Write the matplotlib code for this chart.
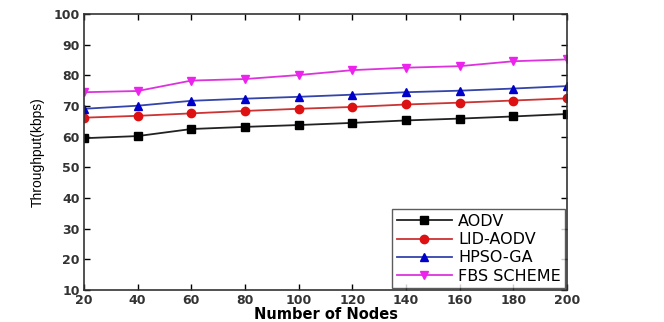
import matplotlib
matplotlib.use("Agg")
import matplotlib.pyplot as plt

nodes = [20, 40, 60, 80, 100, 120, 140, 160, 180, 200]
aodv = [59.5, 60.2, 62.5, 63.2, 63.8, 64.5, 65.3, 65.9, 66.6, 67.4]
lid_aodv = [66.2, 66.8, 67.6, 68.4, 69.1, 69.7, 70.5, 71.1, 71.8, 72.5]
hpso_ga = [69.1, 70.1, 71.7, 72.4, 73.0, 73.7, 74.5, 75.0, 75.7, 76.5]
fbs = [74.5, 74.9, 78.3, 78.8, 80.1, 81.7, 82.5, 83.0, 84.6, 85.2]
labels = ["AODV", "LID-AODV", "HPSO-GA", "FBS SCHEME"]
yticks = [10, 20, 30, 40, 50, 60, 70, 80, 90, 100]

plt.rcParams['font.family'] = ['DejaVu Sans']

fig = plt.figure(figsize=(6.64, 3.22), dpi=100)
ax = fig.add_axes([0.1265, 0.0994, 0.7275, 0.857])

styles = [
    dict(color='#222222', marker='s', mfc='black', mec='black'),
    dict(color='#cc3333', marker='o', mfc='#dd1111', mec='#dd1111'),
    dict(color='#3344aa', marker='^', mfc='#0000cc', mec='#0000cc'),
    dict(color='#dd33dd', marker='v', mfc='#ee22ee', mec='#ee22ee'),
]
for ys, lab, st in zip([aodv, lid_aodv, hpso_ga, fbs], labels, styles):
    ax.plot(nodes, ys, lw=1.3, ms=6, label=lab, **st)

ax.set_xlim(20, 200)
ax.set_ylim(10, 100)
ax.set_xticks(nodes)
ax.set_yticks(yticks)
ax.tick_params(direction='in', top=True, right=True, length=4, width=1,
               labelsize=9, pad=3)
for lbl in ax.get_xticklabels() + ax.get_yticklabels():
    lbl.set_fontweight('bold')
    lbl.set_color('#333333')
for sp in ax.spines.values():
    sp.set_linewidth(1.2)
    sp.set_color('#333333')

ax.set_xlabel("Number of Nodes", fontsize=10.5, fontweight='bold', labelpad=0)
ax.set_ylabel("Throughput(kbps)", fontsize=10, family='Liberation Sans', labelpad=6)

leg = ax.legend(loc='lower right', fontsize=11.5, frameon=True, fancybox=False,
                handlelength=3.4, borderpad=0.3, labelspacing=0.2,
                borderaxespad=0.1, handletextpad=0.4)
leg.get_frame().set_edgecolor('#333333')
leg.get_frame().set_linewidth(1.0)

fig.savefig("out.png", dpi=100)
